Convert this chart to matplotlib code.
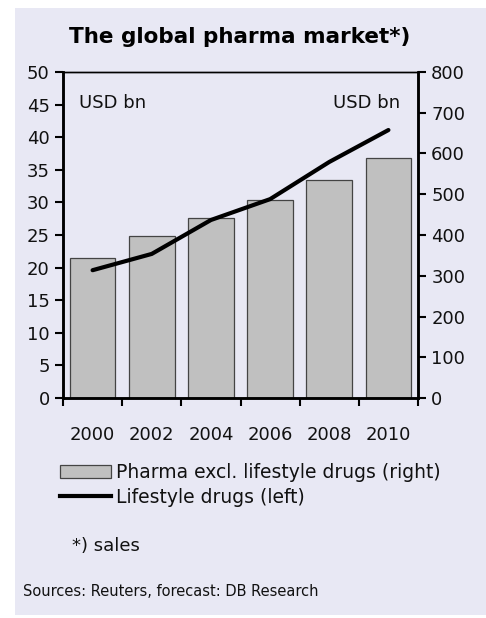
import matplotlib
matplotlib.use("Agg")
import matplotlib.pyplot as plt
from matplotlib.patches import Rectangle, Patch
from matplotlib.lines import Line2D
import numpy as np

plt.rcParams['font.family'] = ['DejaVu Sans']

#===DATA=======================================================================
years = ['2000', '2002', '2004', '2006', '2008', '2010']
pharma_right = [344, 398, 442, 486, 534, 590]        # USD bn, right axis
lifestyle_left = [19.6, 22.1, 27.3, 30.5, 36.2, 41.1]  # USD bn, left axis

bg = '#e8e8f4'
bar_face = '#c0c0c0'
bar_edge = '#444444'
txt = '#111111'
fs = 13

#===FIGURE=====================================================================
fig = plt.figure(figsize=(4.86, 6.18), dpi=100)
fig.patch.set_facecolor('white')
fig.patches.append(Rectangle((15/486, 3/618), 1 - 15/486, (615 - 8)/618,
                             transform=fig.transFigure, facecolor=bg,
                             edgecolor='none', zorder=-5))

ax = fig.add_axes([63/486, 1 - 398/618, (418 - 63)/486, (398 - 72)/618])
ax2 = ax.twinx()

x = np.arange(len(years))

# bars on the right axis
ax2.bar(x, pharma_right, width=0.77, color=bar_face, edgecolor=bar_edge,
        linewidth=0.9, zorder=2)
ax2.set_ylim(0, 800)
ax2.set_yticks(np.arange(0, 801, 100))
ax2.patch.set_visible(False)

# line on the left axis, drawn over the bars
ax.set_zorder(ax2.get_zorder() + 1)
ax.patch.set_visible(False)
ax.plot(x, lifestyle_left, color='black', linewidth=3, solid_capstyle='round')
ax.set_ylim(0, 50)
ax.set_yticks(np.arange(0, 51, 5))
ax.set_xlim(-0.5, len(years) - 0.5)

# x ticks at category boundaries, labels at centres
ax.set_xticks(np.arange(-0.5, len(years), 1.0))
ax.set_xticklabels([])
ax.set_xticks(x, minor=True)
ax.set_xticklabels(years, minor=True)
ax.tick_params(axis='x', which='major', direction='out', length=6, width=1.5)
ax.tick_params(axis='x', which='minor', length=0, pad=20, labelsize=fs,
               labelcolor=txt)
ax.tick_params(axis='y', direction='out', length=6, width=1.5, labelsize=fs,
               labelcolor=txt)
ax2.tick_params(axis='y', direction='out', length=6, width=1.5, labelsize=fs,
                labelcolor=txt)

for a in (ax, ax2):
    a.spines['left'].set_linewidth(1.8)
    a.spines['right'].set_linewidth(1.8)
    a.spines['bottom'].set_linewidth(1.8)
    a.spines['top'].set_linewidth(1.0)

ax.text(0.045, 0.905, 'USD bn', transform=ax.transAxes, fontsize=fs,
        ha='left', va='center', color=txt)
ax.text(0.95, 0.905, 'USD bn', transform=ax.transAxes, fontsize=fs,
        ha='right', va='center', color=txt)

fig.text(240/486, 1 - 37/618, 'The global pharma market*)', fontsize=15.5,
         fontweight='bold', ha='center', va='center')

# legend
handles = [Patch(facecolor=bar_face, edgecolor=bar_edge, linewidth=0.9),
           Line2D([0], [0], color='black', linewidth=3)]
labels = ['Pharma excl. lifestyle drugs (right)', 'Lifestyle drugs (left)']
leg = fig.legend(handles, labels, loc='upper left',
                 bbox_to_anchor=(60/486, 1 - 463/618), frameon=False,
                 fontsize=13.5, handlelength=2.7, handleheight=0.7,
                 handletextpad=0.3, labelspacing=0.3, borderpad=0,
                 borderaxespad=0)
for t in leg.get_texts():
    t.set_color(txt)

fig.text(72/486, 1 - 546/618, '*) sales', fontsize=fs, ha='left', va='center',
         color=txt)
fig.text(23/486, 1 - 592/618, 'Sources: Reuters, forecast: DB Research',
         fontsize=10.5, ha='left', va='center', color=txt)

fig.savefig('out.png', dpi=100)
